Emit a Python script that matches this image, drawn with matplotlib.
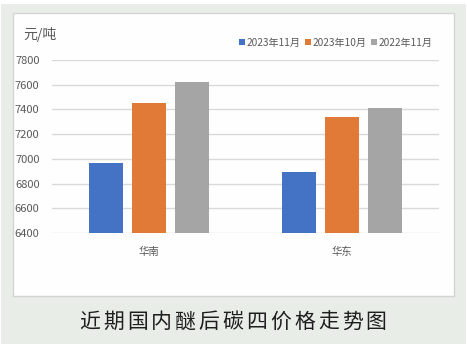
import numpy as np
import matplotlib.pyplot as plt
from matplotlib.patches import Rectangle

plt.rcParams['font.family'] = ['Noto Sans CJK SC', 'DejaVu Sans']

# data
regions = ["华南", "华东"]
series_names = ["2023年11月", "2023年10月", "2022年11月"]
nov_2023 = [6965, 6890]
oct_2023 = [7450, 7340]
nov_2022 = [7620, 7410]
y_ticks = [6400, 6600, 6800, 7000, 7200, 7400, 7600, 7800]
unit = "元/吨"
title = "近期国内醚后碳四价格走势图"

COLORS = ["#4472C4", "#E07A36", "#A5A5A5"]
W, H = 467, 352

fig = plt.figure(figsize=(W / 100, H / 100), dpi=100)
fig.patch.set_facecolor("white")

def px(x0, y0, x1, y1):
    # pixel box (top-down) -> figure coords
    return [x0 / W, 1 - y1 / H, (x1 - x0) / W, (y1 - y0) / H]

# green backdrop and white chart panel
b = px(1, 4, 466, 344)
fig.patches.append(Rectangle((b[0], b[1]), b[2], b[3], transform=fig.transFigure,
                             facecolor="#E8EDE7", edgecolor="none", zorder=0))
p = px(12.5, 13, 453.5, 295.5)
fig.patches.append(Rectangle((p[0], p[1]), p[2], p[3], transform=fig.transFigure,
                             facecolor="#FEFEFE", edgecolor="#D4D4D4", linewidth=1.0, zorder=1))

ax = fig.add_axes(px(52, 60, 439, 233))
ax.set_facecolor("none")
ax.set_zorder(2)

x = np.arange(len(regions))
step = 43 / 193.5
width = 34 / 193.5
for i, vals in enumerate([nov_2023, oct_2023, nov_2022]):
    ax.bar(x + (i - 1) * step, [v - y_ticks[0] for v in vals], width, bottom=y_ticks[0],
           color=COLORS[i], label=series_names[i], zorder=3)

ax.set_xlim(-0.5, len(regions) - 0.5)
ax.set_ylim(y_ticks[0], y_ticks[-1])
ax.set_yticks(y_ticks)
ax.set_xticks(x)
ax.set_xticklabels(regions)
ax.tick_params(axis="y", length=0, pad=9, labelsize=8, labelcolor="#595959")
ax.tick_params(axis="x", length=0, pad=10, labelsize=7.5, labelcolor="#595959")
ax.grid(axis="y", color="#D9D9D9", linewidth=1.0, zorder=0)
for s in ax.spines.values():
    s.set_visible(False)

fig.text(23 / W, 1 - 35 / H, unit, fontsize=10, color="#595959", va="center", ha="left", zorder=3)

ax.legend(loc="center right", bbox_to_anchor=(437 / W, 1 - 43 / H), bbox_transform=fig.transFigure,
          ncol=3, frameon=False, fontsize=7.3, handlelength=0.55, handleheight=0.55,
          handletextpad=0.2, columnspacing=0.45, labelcolor="#595959", borderaxespad=0)

# title with wide letter spacing
n = len(title)
cx0, cx1 = 90, 376
for k, ch in enumerate(title):
    fig.text((cx0 + (cx1 - cx0) * k / (n - 1)) / W, 1 - 322 / H, ch, fontsize=15,
             color="#1E1E1E", ha="center", va="center", zorder=3)

fig.savefig("out.png", dpi=100, facecolor="white")
